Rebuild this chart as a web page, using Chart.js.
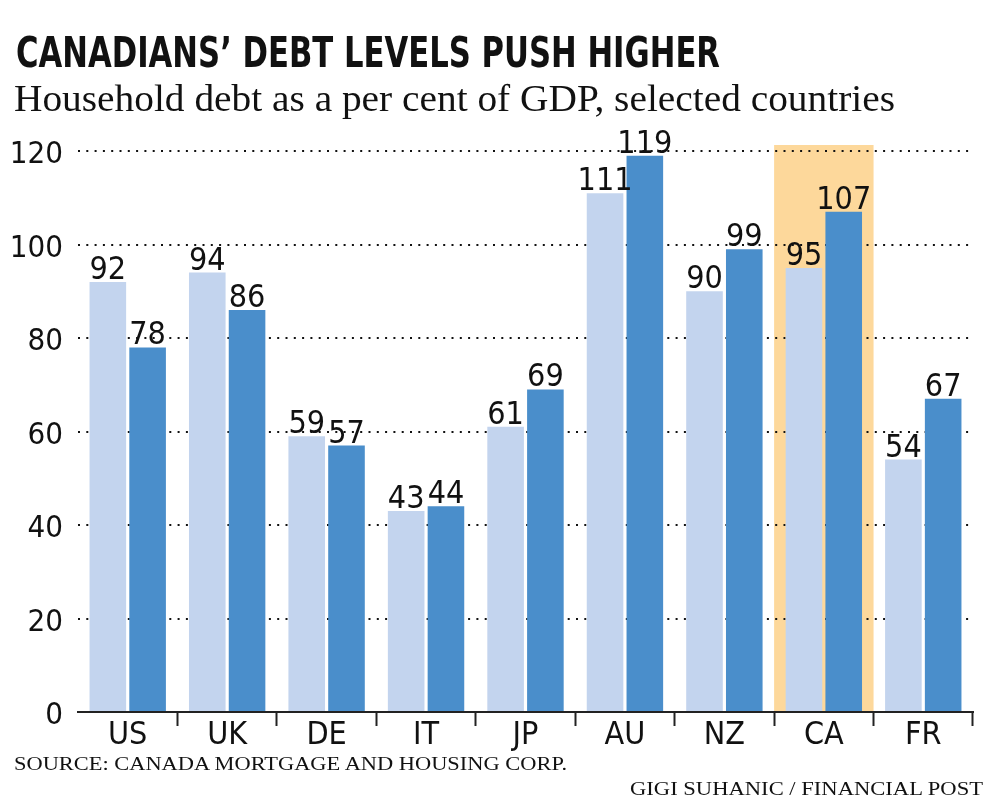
<!DOCTYPE html>
<html><head><meta charset="utf-8">
<script src="https://cdn.jsdelivr.net/npm/chart.js@4.4.1/dist/chart.umd.min.js"></script>
<style>
html,body{margin:0;padding:0;background:#fff;width:1000px;height:810px;overflow:hidden;}
#wrap{position:relative;width:1000px;height:810px;}
canvas{position:absolute;left:0;top:0;}
.t{position:absolute;white-space:nowrap;transform-origin:0 0;color:#111;line-height:1;}
</style></head><body>
<div id="wrap">
<canvas id="c" width="1000" height="810"></canvas>
<div class="t" id="title">CANADIANS’ DEBT LEVELS PUSH HIGHER</div>
<div class="t" id="subtitle">Household debt as a per cent of GDP, selected countries</div>
<div class="t" id="source">SOURCE: CANADA MORTGAGE AND HOUSING CORP.</div>
<div class="t" id="credit">GIGI SUHANIC / FINANCIAL POST</div>
</div>
<script>
// ---- data ----
const categories = ['US','UK','DE','IT','JP','AU','NZ','CA','FR'];
const earlierValues = [92, 94, 59, 43, 61, 111, 90, 95, 54];
const latestValues  = [78, 86, 57, 44, 69, 119, 99, 107, 67];
const yTickValues = [0, 20, 40, 60, 80, 100, 120];
const highlightCategory = 'CA';
const highlightTop = 121.3;

// ---- font detection ----
function pickFont(cands, fallback){
  const c = document.createElement('canvas').getContext('2d');
  const s = '0123456789 ABCDEFGHIJKLMNOPQRSTUVWXYZ abcdefghij';
  c.font = '40px monospace'; const b1 = c.measureText(s).width;
  for (const f of cands){
    c.font = `40px "${f}", monospace`; const w1 = c.measureText(s).width;
    c.font = `40px "${f}", serif`; const w2 = c.measureText(s).width;
    if (Math.abs(w1-w2) < 0.01 && Math.abs(w1-b1) > 0.01) return f;
  }
  return fallback;
}
const narrow = pickFont(['Liberation Sans Narrow','DejaVu Sans Condensed','Roboto Condensed','Open Sans Condensed','Arial Narrow'], 'Roboto');
const NARROW = `"${narrow}", Roboto, sans-serif`;
const SERIF = '"Liberation Serif", "DejaVu Serif", serif';

// ---- HTML texts ----
function placeText(id, family, size, weight, left, top, right){
  const el = document.getElementById(id);
  el.style.fontFamily = family; el.style.fontSize = size + 'px'; el.style.fontWeight = weight;
  el.style.left = left + 'px'; el.style.top = top + 'px';
  const w = el.getBoundingClientRect().width;
  el.style.transform = `scaleX(${(right-left)/w})`;
}
placeText('title', NARROW, 43, 700, 16, 31, 720);
placeText('subtitle', SERIF, 37, 400, 14, 80, 895);
placeText('source', SERIF, 18, 400, 14, 755, 567);
placeText('credit', SERIF, 18, 400, 630, 780, 983);

// ---- plugins ----
const highlightPlugin = {
  id: 'highlight',
  beforeDraw(chart){
    const x = chart.scales.x, y = chart.scales.y, ctx = chart.ctx;
    const i = categories.indexOf(highlightCategory);
    const half = (x.getPixelForValue(1) - x.getPixelForValue(0)) / 2;
    const cx = x.getPixelForValue(i);
    const top = y.getPixelForValue(highlightTop), bot = y.getPixelForValue(0);
    ctx.save(); ctx.fillStyle = '#fdd89b';
    ctx.fillRect(cx - half, top, half*2, bot - top);
    ctx.restore();
  }
};
const valueLabels = {
  id: 'valueLabels',
  afterDraw(chart){
    const ctx = chart.ctx;
    ctx.save();
    ctx.font = `32px ${NARROW}`;
    ctx.fillStyle = '#111'; ctx.textAlign = 'center'; ctx.textBaseline = 'alphabetic';
    chart.data.datasets.forEach((ds, di) => {
      chart.getDatasetMeta(di).data.forEach((bar, i) => {
        ctx.fillText(String(ds.data[i]), bar.x, bar.y - 3);
      });
    });
    ctx.restore();
  }
};

new Chart(document.getElementById('c'), {
  type: 'bar',
  data: {
    labels: categories,
    datasets: [
      { label: 'Earlier', data: earlierValues, backgroundColor: '#c3d4ee', borderWidth: 0 },
      { label: 'Latest', data: latestValues, backgroundColor: '#4a8ecb', borderWidth: 0 }
    ]
  },
  options: {
    responsive: false, animation: false, devicePixelRatio: 1,
    layout: { padding: { left: 0, right: 27, top: 145, bottom: 58 } },
    categoryPercentage: 0.8, barPercentage: 0.92,
    plugins: { legend: { display: false }, tooltip: { enabled: false } },
    scales: {
      x: {
        afterFit(s){ s.height = 40; },
        grid: {
          offset: true, drawOnChartArea: false, drawTicks: true, tickLength: 14, tickWidth: 2,
          tickColor: ctx => (ctx.index === 0 || ctx.index === categories.length) ? 'rgba(0,0,0,0)' : '#222'
        },
        border: { display: true, color: '#222', width: 2 },
        ticks: { color: '#111', font: { family: NARROW, size: 32 }, padding: -10, maxRotation: 0 }
      },
      y: {
        min: 0, max: highlightTop, z: 1,
        afterFit(s){ s.width = 78; },
        afterBuildTicks(s){ s.ticks = yTickValues.map(v => ({ value: v })); },
        grid: {
          drawTicks: false, lineWidth: 2,
          color: ctx => (ctx.tick && ctx.tick.value === 0) ? 'rgba(0,0,0,0)' : '#111'
        },
        border: { display: false, dash: [2, 6.3] },
        ticks: { color: '#111', font: { family: NARROW, size: 31 }, padding: 15, labelOffset: 4 }
      }
    }
  },
  plugins: [highlightPlugin, valueLabels]
});
</script>
</body></html>
